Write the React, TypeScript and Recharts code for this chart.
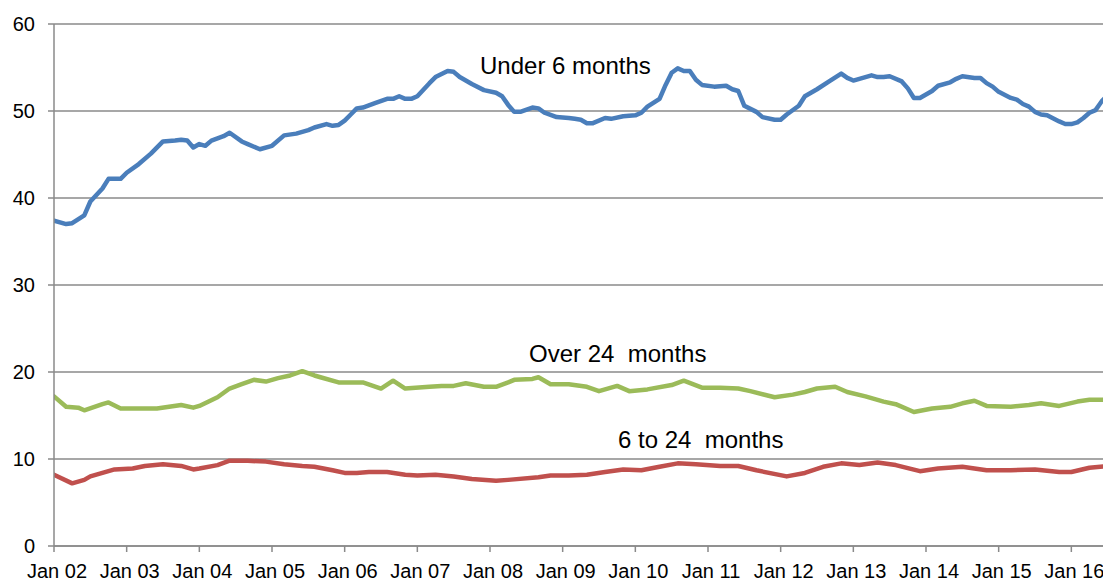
import React from "react";
import { LineChart, Line, XAxis, YAxis, CartesianGrid } from "recharts";

// Month index: 0 = Jan 2002
const under6Months = [0, 2, 3, 5, 6, 8, 9, 11, 12, 14, 16, 18, 20, 21, 22, 23, 24, 25, 26, 28, 29, 31, 32, 34, 36, 38, 40, 42, 43, 45, 46, 47, 48, 49, 50, 51, 53, 55, 56, 57, 58, 59, 60, 62, 63, 65, 66, 67, 68, 69, 71, 73, 74, 75, 76, 77, 79, 80, 81, 83, 85, 86, 87, 88, 89, 91, 92, 94, 96, 97, 98, 100, 101, 102, 103, 104, 105, 106, 107, 109, 111, 112, 113, 114, 116, 117, 119, 120, 121, 123, 124, 126, 128, 130, 131, 132, 133, 135, 136, 137, 138, 140, 141, 142, 143, 145, 146, 148, 149, 150, 152, 153, 154, 155, 156, 158, 159, 160, 161, 162, 163, 164, 166, 167, 168, 169, 170, 171, 172, 173, 174];
const under6Values = [37.4, 37.0, 37.1, 38.0, 39.6, 41.1, 42.2, 42.2, 42.9, 43.9, 45.1, 46.5, 46.6, 46.7, 46.6, 45.8, 46.2, 46.0, 46.6, 47.1, 47.5, 46.5, 46.2, 45.6, 46.0, 47.2, 47.4, 47.8, 48.1, 48.5, 48.3, 48.4, 48.9, 49.6, 50.3, 50.4, 50.9, 51.4, 51.4, 51.7, 51.4, 51.4, 51.7, 53.2, 53.9, 54.6, 54.5, 53.9, 53.5, 53.1, 52.4, 52.1, 51.7, 50.7, 49.9, 49.9, 50.4, 50.3, 49.8, 49.3, 49.2, 49.1, 49.0, 48.6, 48.6, 49.2, 49.1, 49.4, 49.5, 49.8, 50.5, 51.4, 53.0, 54.4, 54.9, 54.6, 54.6, 53.6, 53.0, 52.8, 52.9, 52.5, 52.3, 50.6, 49.9, 49.3, 49.0, 49.0, 49.6, 50.6, 51.7, 52.5, 53.4, 54.3, 53.8, 53.5, 53.7, 54.1, 53.9, 53.9, 54.0, 53.4, 52.6, 51.5, 51.5, 52.3, 52.9, 53.3, 53.7, 54.0, 53.8, 53.8, 53.2, 52.8, 52.2, 51.5, 51.3, 50.8, 50.5, 49.9, 49.6, 49.5, 48.8, 48.5, 48.5, 48.7, 49.2, 49.8, 50.1, 51.1, 51.8];

const over24Months = [0, 2, 4, 5, 8, 9, 11, 14, 17, 19, 21, 23, 24, 27, 29, 31, 33, 35, 37, 39, 41, 43, 44, 47, 51, 54, 56, 58, 62, 64, 66, 68, 71, 73, 75, 76, 79, 80, 82, 85, 88, 90, 93, 95, 98, 102, 104, 107, 110, 113, 115, 119, 122, 124, 126, 129, 131, 134, 137, 139, 142, 145, 148, 150, 152, 154, 158, 161, 163, 166, 169, 171, 174];
const over24Values = [17.2, 16.0, 15.9, 15.6, 16.3, 16.5, 15.8, 15.8, 15.8, 16.0, 16.2, 15.9, 16.1, 17.1, 18.1, 18.6, 19.1, 18.9, 19.3, 19.6, 20.1, 19.6, 19.4, 18.8, 18.8, 18.1, 19.0, 18.1, 18.3, 18.4, 18.4, 18.7, 18.3, 18.3, 18.8, 19.1, 19.2, 19.4, 18.6, 18.6, 18.3, 17.8, 18.4, 17.8, 18.0, 18.5, 19.0, 18.2, 18.2, 18.1, 17.8, 17.1, 17.4, 17.7, 18.1, 18.3, 17.7, 17.2, 16.6, 16.3, 15.4, 15.8, 16.0, 16.4, 16.7, 16.1, 16.0, 16.2, 16.4, 16.1, 16.6, 16.8, 16.8];

const mid6to24Months = [0, 3, 5, 6, 8, 10, 13, 15, 18, 21, 23, 24, 27, 29, 32, 35, 38, 41, 43, 46, 48, 50, 52, 55, 58, 60, 63, 66, 69, 73, 75, 80, 82, 85, 88, 91, 94, 97, 100, 103, 106, 110, 113, 116, 121, 124, 127, 130, 133, 136, 139, 143, 146, 150, 154, 158, 162, 166, 168, 171, 174];
const mid6to24Values = [8.2, 7.2, 7.6, 8.0, 8.4, 8.8, 8.9, 9.2, 9.4, 9.2, 8.8, 8.9, 9.3, 9.8, 9.8, 9.7, 9.4, 9.2, 9.1, 8.7, 8.4, 8.4, 8.5, 8.5, 8.2, 8.1, 8.2, 8.0, 7.7, 7.5, 7.6, 7.9, 8.1, 8.1, 8.2, 8.5, 8.8, 8.7, 9.1, 9.5, 9.4, 9.2, 9.2, 8.7, 8.0, 8.4, 9.1, 9.5, 9.3, 9.6, 9.3, 8.6, 8.9, 9.1, 8.7, 8.7, 8.8, 8.5, 8.5, 9.0, 9.2];

const xTicks = [0, 12, 24, 36, 48, 60, 72, 84, 96, 108, 120, 132, 144, 156, 168];
const xTickLabels = ["Jan 02", "Jan 03", "Jan 04", "Jan 05", "Jan 06", "Jan 07", "Jan 08", "Jan 09", "Jan 10", "Jan 11", "Jan 12", "Jan 13", "Jan 14", "Jan 15", "Jan 16"];
const yTicks = [0, 10, 20, 30, 40, 50, 60];

const seriesLabels = ["Under 6 months", "Over 24  months", "6 to 24  months"];

const toRows = (ts: number[], vs: number[]) => ts.map((t, i) => ({ t, v: vs[i] }));

const FONT = "'Liberation Sans', Arial, sans-serif";
const GRID = "#8a8a8a";

export default function App() {
  const labelStyle: React.CSSProperties = {
    position: "absolute",
    fontFamily: FONT,
    fontSize: 24,
    color: "#000",
    whiteSpace: "pre",
    lineHeight: "24px",
  };
  return (
    <div style={{ position: "fixed", left: 0, top: 0, width: 1103, height: 581, overflow: "hidden", background: "#fff" }}>
      <LineChart width={1154} height={581} margin={{ top: 24, right: 10, left: 0, bottom: 0 }}>
        <CartesianGrid vertical={false} stroke={GRID} strokeWidth={1.5} />
        <XAxis
          type="number"
          dataKey="t"
          domain={[0, 180]}
          ticks={xTicks}
          tickFormatter={(v: number) => xTickLabels[xTicks.indexOf(v)] ?? ""}
          height={35}
          tickSize={6}
          tickMargin={12}
          stroke={GRID}
          strokeWidth={1.5}
          tick={{ fontSize: 20, fill: "#000", fontFamily: FONT, dx: 3 }}
          interval={0}
          allowDataOverflow
        />
        <YAxis
          type="number"
          domain={[0, 60]}
          ticks={yTicks}
          width={54}
          tickSize={6}
          tickMargin={13}
          stroke={GRID}
          strokeWidth={1.5}
          tick={{ fontSize: 20, fill: "#000", fontFamily: FONT }}
          interval={0}
        />
        <Line data={toRows(under6Months, under6Values)} dataKey="v" type="linear" stroke="#4a7ebb" strokeWidth={4.5} strokeLinejoin="round" strokeLinecap="round" dot={false} isAnimationActive={false} />
        <Line data={toRows(over24Months, over24Values)} dataKey="v" type="linear" stroke="#9bbb59" strokeWidth={4.5} strokeLinejoin="round" strokeLinecap="round" dot={false} isAnimationActive={false} />
        <Line data={toRows(mid6to24Months, mid6to24Values)} dataKey="v" type="linear" stroke="#c0504d" strokeWidth={4.5} strokeLinejoin="round" strokeLinecap="round" dot={false} isAnimationActive={false} />
      </LineChart>
      <div style={{ ...labelStyle, left: 480, top: 54 }}>{seriesLabels[0]}</div>
      <div style={{ ...labelStyle, left: 529, top: 342 }}>{seriesLabels[1]}</div>
      <div style={{ ...labelStyle, left: 618, top: 428 }}>{seriesLabels[2]}</div>
    </div>
  );
}
